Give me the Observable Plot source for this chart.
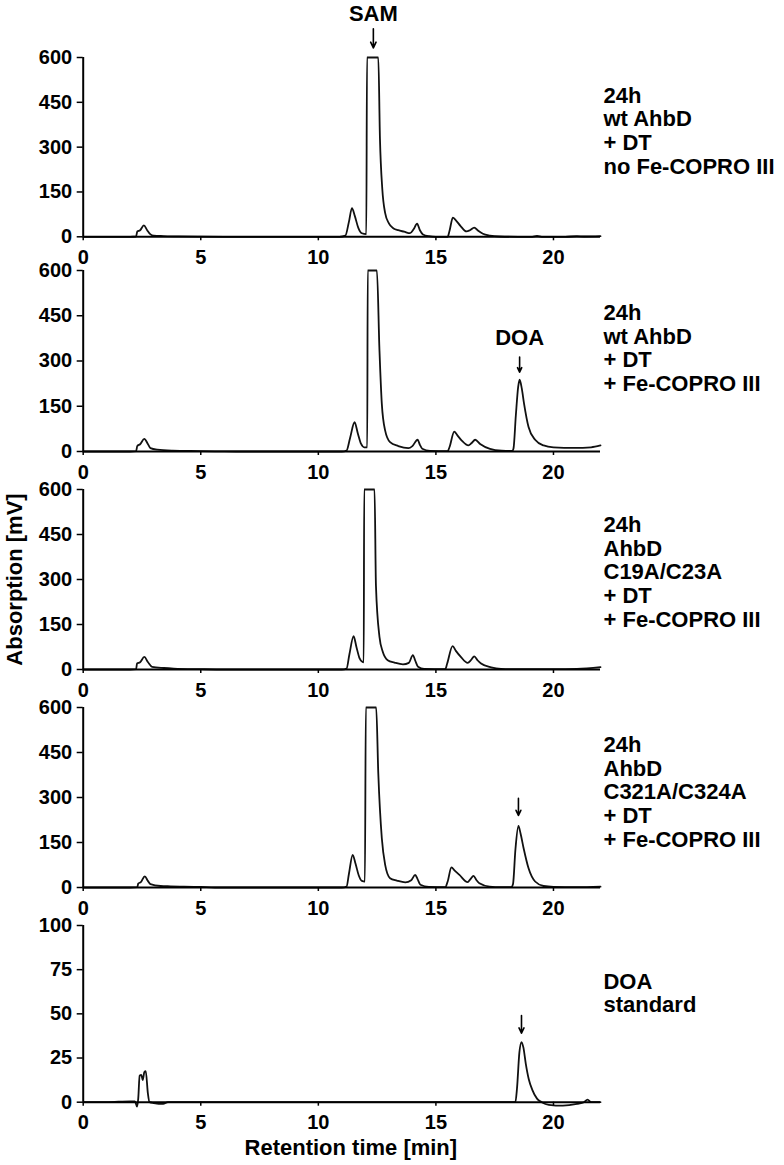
<!DOCTYPE html>
<html><head><meta charset="utf-8">
<script src="https://cdn.jsdelivr.net/npm/d3@7"></script>
<script src="https://cdn.jsdelivr.net/npm/@observablehq/plot@0.6"></script>
<style>
html,body{margin:0;padding:0;background:#fff;}
#chart{position:relative;width:784px;height:1165px;overflow:hidden;background:#fff;}
#chart svg{position:absolute;left:0;overflow:visible;}
</style></head><body><div id="chart"></div>
<script>
// ---- data ----
const xTicks = [0, 5, 10, 15, 20];
const yTicksMain = [0, 150, 300, 450, 600];
const yTicksStd = [0, 25, 50, 75, 100];

// [retention time (min), absorption (mV)]
const traceWtNoFe = [[0,0],[2.0,0],[2.25,1],[2.3,18],[2.42,22],[2.58,38],[2.72,22],[2.85,9],[3.0,4],[3.4,2.5],[4.0,1.5],[5.0,0.5],[6,0],[10.9,0],[11.15,4],[11.3,50],[11.43,96],[11.55,70],[11.7,30],[11.85,12],[12.04,9],[12.07,600],[12.55,600],[12.62,330],[12.72,160],[12.84,80],[13.0,45],[13.2,28],[13.4,22],[13.65,17],[13.9,12],[14.05,25],[14.2,44],[14.32,22],[14.45,8],[14.7,2],[15.0,0],[15.5,0],[15.58,20],[15.72,64],[15.85,55],[16.05,36],[16.3,18],[16.45,22],[16.63,31],[16.8,20],[17.0,10],[17.3,4],[17.7,1],[18.5,0],[19.1,0],[19.3,3],[19.5,0],[20.5,0],[21.0,2],[21.3,1],[22,2]];
const traceWtFe = [[0,0],[2.0,0],[2.25,1],[2.3,18],[2.42,24],[2.6,42],[2.75,25],[2.86,11],[3.15,6],[3.8,3],[5.0,1.5],[5.7,0.5],[6.5,0],[11.0,0],[11.2,3],[11.35,45],[11.54,97],[11.68,60],[11.82,25],[11.95,14],[12.08,14],[12.1,600],[12.49,600],[12.6,335],[12.7,158],[12.84,70],[13.05,31],[13.4,18],[13.83,11],[14.0,18],[14.22,39],[14.32,22],[14.42,9],[14.75,2],[15.5,1],[15.58,15],[15.78,66],[15.9,55],[16.1,36],[16.38,20],[16.52,28],[16.67,39],[16.88,25],[17.3,9],[17.8,3],[18.25,2],[18.3,10],[18.4,120],[18.5,215],[18.56,238],[18.65,210],[18.75,158],[18.94,81],[19.22,39],[19.58,20],[20.0,14],[20.9,12],[21.6,14],[22,20]];
const traceC19 = [[0,0],[2.0,0],[2.25,1],[2.29,20],[2.42,24],[2.6,42],[2.75,25],[2.93,9],[3.43,5],[3.85,3],[5,1],[6,0],[11.0,0],[11.2,3],[11.32,50],[11.5,111],[11.62,75],[11.75,38],[11.88,25],[11.93,24],[11.95,600],[12.39,600],[12.45,280],[12.6,109],[12.74,59],[12.95,31],[13.24,23],[13.6,17],[13.85,22],[14.02,48],[14.12,30],[14.24,9],[14.5,2],[15.4,1],[15.48,20],[15.71,78],[15.85,62],[16.06,42],[16.35,22],[16.5,32],[16.63,44],[16.78,30],[16.92,20],[17.35,7],[17.77,2],[18.5,1],[20,1],[21,2],[22,8]];
const traceC321 = [[0,0],[2.0,0],[2.3,1],[2.34,13],[2.45,18],[2.62,37],[2.75,22],[2.86,11],[3.29,5],[3.72,4],[5,2],[5.6,0],[11.0,0],[11.2,3],[11.3,45],[11.46,109],[11.58,80],[11.72,40],[11.85,22],[11.98,20],[12.02,600],[12.46,600],[12.55,380],[12.7,164],[12.84,76],[13.05,31],[13.34,23],[13.7,17],[13.95,24],[14.12,42],[14.22,28],[14.34,9],[14.7,2],[15.4,1],[15.5,20],[15.66,67],[15.8,56],[16.0,42],[16.35,18],[16.47,28],[16.6,39],[16.72,25],[16.85,14],[17.28,3],[17.77,1],[18.2,1],[18.28,12],[18.38,125],[18.51,205],[18.6,180],[18.73,131],[18.94,64],[19.22,20],[19.58,5],[20,2],[21,1],[22,3]];
const traceStd = [[0,0],[1.0,0],[2.0,0.5],[2.2,0.5],[2.29,-2.5],[2.34,2],[2.4,15],[2.47,15.5],[2.53,12.5],[2.6,17],[2.66,17.5],[2.75,5],[2.82,0],[3.0,-0.5],[3.4,-1],[3.6,0],[18.38,0],[18.45,8],[18.55,28],[18.64,34],[18.72,31],[18.82,22],[18.95,13],[19.1,7],[19.3,2],[19.5,0],[19.8,-1.5],[20.4,-2],[21.0,-1],[21.3,0],[21.45,1.5],[21.6,0],[22,0]];

const conditionLabels = [
  "24h\nwt AhbD\n+ DT\nno Fe-COPRO III",
  "24h\nwt AhbD\n+ DT\n+ Fe-COPRO III",
  "24h\nAhbD\nC19A/C23A\n+ DT\n+ Fe-COPRO III",
  "24h\nAhbD\nC321A/C324A\n+ DT\n+ Fe-COPRO III",
  "DOA\nstandard"
];
// peak annotations: [panel, time, arrow start mV, arrow end mV, label, label mV]
const peakNotes = [
  [0, 12.34, 696, 632, "SAM", 746],
  [1, 18.56, 313, 263, "DOA", 375],
  [3, 18.51, 297, 240, "", 0],
  [4, 18.64, 49, 39, "", 0]
];
const xTitle = "Retention time [min]";
const yTitle = "Absorption [mV]";

// ---- layout ----
const traces = [traceWtNoFe, traceWtFe, traceC19, traceC321, traceStd];
const yDomains = [[0,600],[0,600],[0,600],[0,600],[0,100]];
const yTicks = [yTicksMain, yTicksMain, yTicksMain, yTicksMain, yTicksStd];
const frameTop = [56.7, 270, 489, 706.7, 925.3];
const frameBottom = [236, 451, 669, 886.7, 1102];
const labelDy = [28, 32, 25, 27, 46];
const MT = 50, MB = 60, ML = 82.7, MR = 184;
const FONT = "'Liberation Sans', Arial, Helvetica, sans-serif";

const root = document.getElementById("chart");
traces.forEach((tr, i) => {
  const data = tr.map(([t, v]) => ({t, v}));
  const H = frameBottom[i] - frameTop[i];
  const notes = peakNotes.filter(n => n[0] === i).map(n => ({t: n[1], a1: n[2], a2: n[3], s: n[4], ly: n[5]}));
  const marks = [
    Plot.line(data, {x: "t", y: "v", curve: "monotone-x", stroke: "#111", strokeWidth: 1.8}),
    Plot.ruleY([0], {stroke: "#000", strokeWidth: 2}),
    Plot.ruleX([0], {stroke: "#000", strokeWidth: 2}),
    Plot.axisX({ticks: xTicks, tickSize: 4, tickPadding: 9, fontSize: 20, strokeWidth: 1.5, label: null, tickFormat: d => String(d)}),
    Plot.axisY({ticks: yTicks[i], tickSize: 6, tickPadding: 5, fontSize: 20, strokeWidth: 1.5, label: null, tickFormat: d => String(d)}),
    Plot.text([conditionLabels[i]], {text: d => d, frameAnchor: "top-right", textAnchor: "start", lineAnchor: "top", dx: 3, dy: labelDy[i], fontSize: 22, lineHeight: 1.09}),
    Plot.arrow(notes, {x1: "t", x2: "t", y1: "a1", y2: "a2", stroke: "#000", strokeWidth: 1.6, headLength: 7, headAngle: 50}),
    Plot.text(notes.filter(d => d.s), {x: "t", y: "ly", text: "s", fontSize: 22})
  ];
  if (i === 2) marks.push(Plot.text([yTitle], {text: d => d, frameAnchor: "left", textAnchor: "middle", lineAnchor: "middle", rotate: -90, dx: -68, fontSize: 22}));
  if (i === 4) marks.push(Plot.text([xTitle], {text: d => d, frameAnchor: "bottom", textAnchor: "middle", lineAnchor: "middle", dy: 46, dx: 9, fontSize: 22}));
  const svg = Plot.plot({
    width: 784,
    height: MT + H + MB,
    marginTop: MT, marginBottom: MB, marginLeft: ML, marginRight: MR,
    x: {domain: [0, 22]},
    y: {domain: yDomains[i]},
    style: {fontFamily: FONT, fontSize: "20px", fontWeight: "bold", background: "transparent", color: "#000", overflow: "visible"},
    marks
  });
  svg.style.top = (frameTop[i] - MT) + "px";
  svg.style.position = "absolute";
  root.appendChild(svg);
});
</script>
</body></html>
